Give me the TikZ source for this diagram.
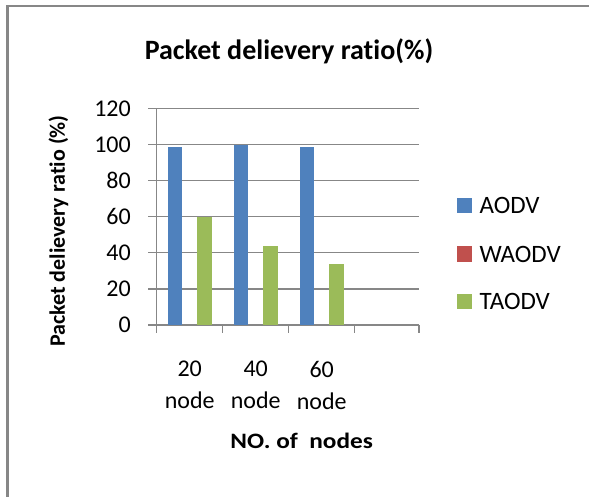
\documentclass[tikz,border=0pt]{standalone}
\usepackage{fontspec}
\setmainfont{Carlito}[Ligatures=NoCommon]
\usepackage{tikz}
\usetikzlibrary{positioning}

\definecolor{aodvblue}{HTML}{4F81BD}
\definecolor{waodvred}{HTML}{C0504D}
\definecolor{taodvgreen}{HTML}{9BBB59}
\definecolor{gridgray}{HTML}{878787}

\tikzset{
  gridline/.style={draw=gridgray, line width=1.3pt},
  ticklabel/.style={font=\fontsize{24}{32}\selectfont, inner sep=0pt},
  axistitle/.style={font=\fontsize{22}{26}\selectfont\bfseries, inner sep=0pt},
  legendkey/.style={minimum size=15pt, inner sep=0pt},
  legendtext/.style={font=\fontsize{25}{28}\selectfont, inner sep=0pt, anchor=west}
}

\begin{document}
\begin{tikzpicture}[x=1pt,y=-1pt]

\useasboundingbox (0,0) rectangle (589,497);
\fill[white] (0,0) rectangle (589,497);

% frame
\draw[draw=gridgray, line width=2.5pt] (7.5,500) -- (7.5,6) -- (592,6);

% title
\node[font=\fontsize{28}{32}\selectfont\bfseries, inner sep=0pt] (title) at (289,51) {Packet delievery ratio(\%)};

% grid lines
\draw[gridline] (148,325.0) -- (419,325.0);
\draw[gridline] (148,288.9) -- (419,288.9);
\draw[gridline] (148,252.8) -- (419,252.8);
\draw[gridline] (148,216.7) -- (419,216.7);
\draw[gridline] (148,180.6) -- (419,180.6);
\draw[gridline] (148,144.5) -- (419,144.5);
\draw[gridline] (148,108.4) -- (419,108.4);

% axes and ticks
\draw[gridline] (156.7,108.4) -- (156.7,333);
\draw[gridline] (222.7,325) -- (222.7,333);
\draw[gridline] (288.7,325) -- (288.7,333);
\draw[gridline] (354.7,325) -- (354.7,333);
\draw[gridline] (419,325) -- (419,333);

% y tick labels
\node[ticklabel, anchor=east] (y0)   at (131,325.0) {0};
\node[ticklabel, anchor=east] (y20)  at (131,288.9) {20};
\node[ticklabel, anchor=east] (y40)  at (131,252.8) {40};
\node[ticklabel, anchor=east] (y60)  at (131,216.7) {60};
\node[ticklabel, anchor=east] (y80)  at (131,180.6) {80};
\node[ticklabel, anchor=east] (y100) at (131,144.5) {100};
\node[ticklabel, anchor=east] (y120) at (131,108.4) {120};

% bars
\fill[aodvblue]   (167.7,325) rectangle (182.4,146.6);
\fill[taodvgreen] (197.0,325) rectangle (211.7,216.7);

\fill[aodvblue]   (233.7,325) rectangle (248.4,145.4);
\fill[taodvgreen] (263.0,325) rectangle (277.7,245.6);

\fill[aodvblue]   (299.7,325) rectangle (314.4,147.2);
\fill[taodvgreen] (329.0,325) rectangle (343.7,263.6);

% x labels
\node[ticklabel, align=center] (c20) at (189.7,385) {20\\node};
\node[ticklabel, align=center] (c40) at (255.7,385) {40\\node};
\node[ticklabel, align=center] (c60) at (321.7,385) {60\\node};

% axis titles
\node[axistitle, xscale=1.15] (xtitle) at (301.7,441) {NO. of~ nodes};
\node[axistitle, rotate=90] (ytitle) at (58.5,231) {Packet delievery ratio (\%)};

% legend
\node[legendkey, fill=aodvblue]   (kaodv)  at (464.7,205.7) {};
\node[legendkey, fill=waodvred]   (kwaodv) at (464.7,254.0) {};
\node[legendkey, fill=taodvgreen] (ktaodv) at (464.7,301.7) {};
\node[legendtext, right=7pt of kaodv]  (laodv)  {AODV};
\node[legendtext, right=7pt of kwaodv] (lwaodv) {WAODV};
\node[legendtext, right=7pt of ktaodv] (ltaodv) {TAODV};

\end{tikzpicture}
\end{document}
